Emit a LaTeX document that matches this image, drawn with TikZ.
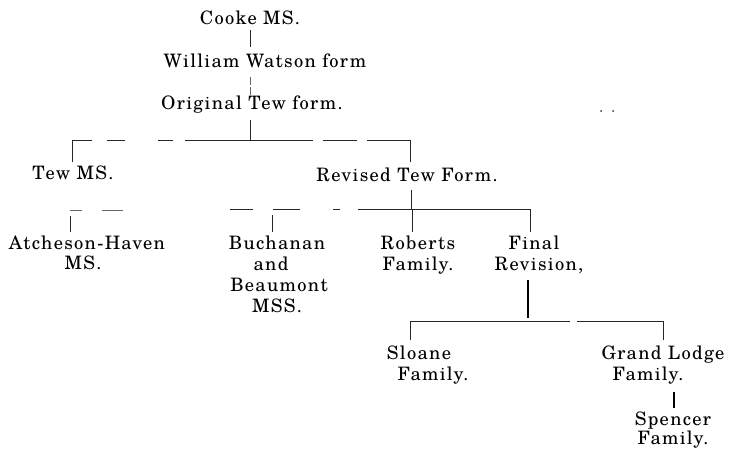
\documentclass[tikz,border=0pt]{standalone}
\usepackage{fontspec}
\newfontfamily\lblfont{texgyreschola-regular.otf}[LetterSpace=7]
\begin{document}
\begin{tikzpicture}[x=1pt,y=-1pt,
  lbl/.style={anchor=base, inner sep=0pt, font=\lblfont\fontsize{18.5}{21}\selectfont},
  ln/.style={line width=0.6pt, black!85},
  boldln/.style={line width=1.4pt, black},
  dotnode/.style={circle, fill=black!80, inner sep=0pt, minimum size=2pt}]
\useasboundingbox (0,0) rectangle (732,449);
% texts
\node[lbl] (cooke) at (250,25) {Cooke MS.};
\node[lbl] (watson) at (265,68) {William Watson form};
\node[lbl] (orig) at (252,110) {Original Tew form.};
\node[lbl] (tew) at (73,180) {Tew MS.};
\node[lbl] (rev) at (407,182) {Revised Tew Form.};
\node[lbl] (ath1) at (87,250) {Atcheson-Haven};
\node[lbl] (ath2) at (83,270) {MS.};
\node[lbl] (buc1) at (277,250) {Buchanan};
\node[lbl] (buc2) at (271,271) {and};
\node[lbl] (buc3) at (279,292) {Beaumont};
\node[lbl] (buc4) at (277,313) {MSS.};
\node[lbl] (rob1) at (418,250) {Roberts};
\node[lbl] (rob2) at (418,271) {Family.};
\node[lbl] (fin1) at (534,250) {Final};
\node[lbl] (fin2) at (539,271) {Revision,};
\node[lbl] (slo1) at (419,360) {Sloane};
\node[lbl] (slo2) at (433,381) {Family.};
\node[lbl] (gl1) at (663,360) {Grand Lodge};
\node[lbl] (gl2) at (648,381) {Family.};
\node[lbl] (spe1) at (673,425) {Spencer};
\node[lbl] (spe2) at (673,445) {Family.};
\node[dotnode] (dotA) at (601,111) {};
\node[dotnode] (dotB) at (613,111) {};
% connector points
\coordinate (c1) at (250,30);  \coordinate (c2) at (250,47);
\coordinate (w1) at (250,77);  \coordinate (w2) at (250,95);
\coordinate (o1) at (250,120); \coordinate (o2) at (250,140);
\coordinate (barL) at (72,140); \coordinate (barR) at (410,140);
\coordinate (tewTop) at (72,162); \coordinate (revTop) at (410,162);
\coordinate (tbL) at (70,210); \coordinate (tbR) at (123,210);
\coordinate (athTop) at (70,232); \coordinate (athBar) at (70,216);
\coordinate (r1) at (411,190); \coordinate (r2) at (411,209);
\coordinate (rbL) at (230,209); \coordinate (rbR) at (530,209);
\coordinate (bucBar) at (272,215); \coordinate (bucTop) at (272,232);
\coordinate (robBar) at (412,210); \coordinate (robTop) at (412,232);
\coordinate (finTop) at (530,232);
\coordinate (f1) at (528,280); \coordinate (f2) at (528,318);
\coordinate (fbL) at (410,321); \coordinate (fbR) at (663,321);
\coordinate (sloTop) at (410,340); \coordinate (glTop) at (663,340);
\coordinate (g1) at (674,392); \coordinate (g2) at (674,408);
% connectors
\draw[ln] (c1) -- (c2);
\draw[ln, black!60, dash pattern=on 8pt off 2pt] (w1) -- (w2);
\draw[ln] (o1) -- (o2);
\draw[ln, dash pattern=on 20pt off 15pt on 18pt off 33pt on 15pt off 12pt on 128pt off 10pt on 34pt off 10pt on 43pt] (barL) -- (barR);
\draw[ln] (barL) -- (tewTop);
\draw[ln] (barR) -- (revTop);
\draw[ln, black!60, dash pattern=on 12pt off 20pt on 21pt off 10pt] (tbL) -- (tbR);
\draw[ln] (athBar) -- (athTop);
\draw[ln] (r1) -- (r2);
\draw[ln, dash pattern=on 23pt off 20pt on 27pt off 33pt on 7pt off 18pt on 172pt] (rbL) -- (rbR);
\draw[ln] (bucBar) -- (bucTop);
\draw[ln] (robBar) -- (robTop);
\draw[ln] (rbR) -- (finTop);
\draw[boldln] (f1) -- (f2);
\draw[ln, dash pattern=on 160pt off 7pt on 86pt] (fbL) -- (fbR);
\draw[ln] (fbL) -- (sloTop);
\draw[ln] (fbR) -- (glTop);
\draw[boldln] (g1) -- (g2);
\end{tikzpicture}
\end{document}
